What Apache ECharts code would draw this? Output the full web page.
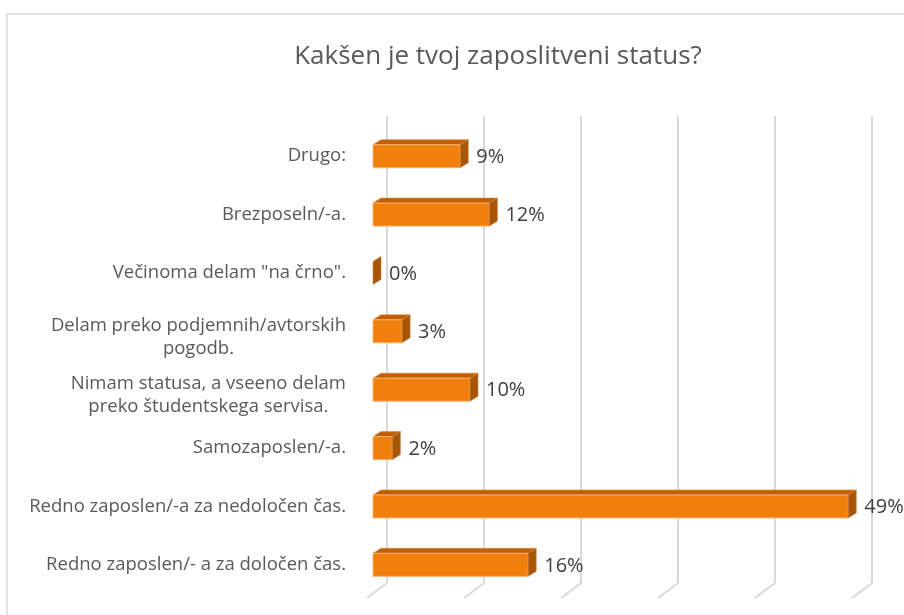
<!DOCTYPE html>
<html>
<head>
<meta charset="utf-8">
<script src="https://cdn.jsdelivr.net/npm/echarts@6/dist/echarts.min.js"></script>
<style>
	html, body { margin: 0; padding: 0; background: #fff; }
	#chart { width: 904px; height: 615px; }
</style>
</head>
<body>
<div id="chart"></div>
<script>
// kategorije in deleži (v %)
const categories = [
	'Drugo:',
	'Brezposeln/-a.',
	'Večinoma delam "na črno".',
	'Delam preko podjemnih/avtorskih\npogodb.',
	'Nimam statusa, a vseeno delam\npreko študentskega servisa.',
	'Samozaposlen/-a.',
	'Redno zaposlen/-a za nedoločen čas.',
	'Redno zaposlen/- a za določen čas.'
];
const values = [9, 12, 0, 3, 10, 2, 49, 16];
const xTicks = [0, 10, 20, 30, 40, 50];

const FONT = '"Open Sans", sans-serif';
const DX = 8, DY = 5, BAR_H = 23;

const chart = echarts.init(document.getElementById('chart'));

// 3D stolpec: sprednja ploskev, zgornja ploskev, desni bok, oznaka
function renderBar(params, api) {
	const v = api.value(0);
	const idx = api.value(1);
	const p0 = api.coord([0, idx]);
	const p1 = api.coord([v, idx]);
	const x0 = p0[0], x1 = p1[0];
	const yt = p0[1] - BAR_H / 2, yb = p0[1] + BAR_H / 2;
	const children = [];
	if (x1 - x0 > 0.5) {
		children.push({
			type: 'polygon',
			shape: { points: [[x0, yt], [x0 + DX, yt - DY], [x1 + DX, yt - DY], [x1, yt]] },
			style: { fill: '#c25f05', stroke: '#d98a45', lineWidth: 0.6 }
		});
		children.push({
			type: 'rect',
			shape: { x: x0, y: yt, width: x1 - x0, height: BAR_H },
			style: { fill: '#f0800b', stroke: '#f7b274', lineWidth: 1 }
		});
	}
	children.push({
		type: 'polygon',
		shape: { points: [[x1, yt], [x1 + DX, yt - DY], [x1 + DX, yb - DY], [x1, yb]] },
		style: { fill: '#a95506', stroke: '#c98445', lineWidth: 0.6 }
	});
	children.push({
		type: 'text',
		style: {
			x: x1 + DX + 8,
			y: p0[1] + 1,
			text: v + '%',
			fill: '#404040',
			font: '20px ' + FONT,
			align: 'left',
			verticalAlign: 'middle'
		}
	});
	return { type: 'group', children: children };
}

// poševne črte tal pod mrežo
function renderFloor(params, api) {
	const p = api.coord([api.value(0), 0]);
	return {
		type: 'line',
		shape: { x1: p[0], y1: p[1], x2: p[0] - 20, y2: p[1] + 15 },
		style: { stroke: '#d9d9d9', lineWidth: 2 }
	};
}

// večvrstične oznake so nekoliko nižje
const yData = categories.map(c => c.indexOf('\n') >= 0
	? { value: c, textStyle: { padding: [11, 0, 0, 0] } }
	: c);

const option = {
	animation: false,
	backgroundColor: '#fff',
	title: {
		text: 'Kakšen je tvoj zaposlitveni status?',
		left: 493,
		top: 39,
		textAlign: 'center',
		textStyle: { color: '#595959', fontSize: 26, fontWeight: 'normal', fontFamily: FONT }
	},
	graphic: [{
		type: 'rect',
		shape: { x: 7, y: 14, width: 920, height: 620 },
		style: { fill: 'none', stroke: '#d9d9d9', lineWidth: 1.5 },
		z: -10
	}],
	grid: [
		{ left: 373, top: 127, width: 485, height: 467 },
		{ left: 387, top: 116, width: 485, height: 467 }
	],
	xAxis: [
		{ type: 'value', gridIndex: 0, min: 0, max: 50, interval: 10, show: false },
		{
			type: 'value', gridIndex: 1, min: 0, max: 50, interval: 10,
			axisLabel: { show: false }, axisLine: { show: false }, axisTick: { show: false },
			splitLine: { show: true, lineStyle: { color: '#d9d9d9', width: 2 } }
		}
	],
	yAxis: [
		{
			type: 'category', gridIndex: 0, inverse: true, data: yData,
			axisLine: { show: false }, axisTick: { show: false },
			axisLabel: {
				margin: 27,
				color: '#595959',
				fontSize: 18.5,
				fontFamily: FONT,
				lineHeight: 23,
				formatter: function (val) {
					return val.indexOf('\n') >= 0 ? '{m|' + val + '}' : val;
				},
				rich: { m: { align: 'center', color: '#595959', fontSize: 18.5, fontFamily: FONT, lineHeight: 23 } }
			}
		},
		{ type: 'value', gridIndex: 1, min: 0, max: 1, show: false }
	],
	series: [
		{
			type: 'custom',
			xAxisIndex: 1, yAxisIndex: 1,
			renderItem: renderFloor,
			data: xTicks.map(t => [t]),
			z: 1
		},
		{
			type: 'custom',
			xAxisIndex: 0, yAxisIndex: 0,
			renderItem: renderBar,
			encode: { x: 0, y: 1 },
			data: values.map((v, i) => [v, i]),
			z: 5
		}
	]
};

chart.setOption(option);
</script>
</body>
</html>
